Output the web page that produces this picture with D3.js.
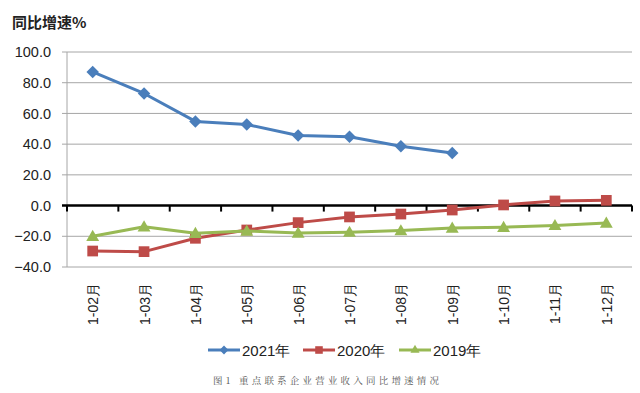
<!DOCTYPE html>
<html><head><meta charset="utf-8">
<script src="https://cdn.jsdelivr.net/npm/d3@7"></script>
<style>body{margin:0;background:#fff;}svg{display:block;}</style>
</head><body>
<svg id="c" width="640" height="393"></svg>
<script>
const categories = ["1-02月","1-03月","1-04月","1-05月","1-06月","1-07月","1-08月","1-09月","1-10月","1-11月","1-12月"];
const s2021 = [87.0, 73.0, 54.8, 52.8, 45.6, 44.8, 38.6, 34.2, null, null, null];
const s2020 = [-29.6, -30.0, -21.3, -15.9, -11.1, -7.4, -5.5, -2.9, 0.4, 3.0, 3.4];
const s2019 = [-20.0, -13.8, -18.0, -16.5, -17.8, -17.3, -16.3, -14.6, -14.1, -12.9, -11.3];
const yTicks = [100, 80, 60, 40, 20, 0, -20, -40];
const seriesNames = ["2021年","2020年","2019年"];
const colors = ["#4A7EBB","#BE4B48","#98B954"];

(function(){
const shapes = [d3.symbolSquare, d3.symbolSquare, d3.symbolTriangle];
const rot = [45, 0, 0];
const sizes = [78, 115, 72];
const svg = d3.select("#c");
const pL = 67, pR = 632, pT = 52, pB = 267;
const x = d3.scaleBand().domain(categories).range([pL, pR]);
const y = d3.scaleLinear().domain([-40, 100]).range([pB, pT]);
const font = "'Liberation Sans', Arial, sans-serif";

svg.append("text").attr("x", 12).attr("y", 28).text("同比增速%")
  .attr("font-family", "'Noto Sans CJK SC', sans-serif").attr("font-weight", "bold")
  .attr("font-size", 15).attr("fill", "#222");

svg.append("g").selectAll("line").data(yTicks.filter(d => d !== 0)).join("line")
  .attr("x1", pL - 5).attr("x2", pR).attr("y1", d => y(d)).attr("y2", d => y(d))
  .attr("stroke", "#a6a6a6").attr("stroke-width", 1);
svg.append("line").attr("x1", pL).attr("x2", pL).attr("y1", pT).attr("y2", pB)
  .attr("stroke", "#a6a6a6").attr("stroke-width", 1);

const yAxis = d3.axisLeft(y).tickValues(yTicks).tickFormat(d3.format(".1f")).tickSize(0).tickPadding(16);
const ya = svg.append("g").attr("transform", `translate(${pL},0)`).call(yAxis);
ya.select(".domain").remove();
ya.selectAll("text").attr("font-family", font).attr("font-size", 14.5).attr("fill", "#222");

const xa = svg.append("g").attr("transform", `translate(0,${y(0)})`);
xa.append("line").attr("x1", pL - 5).attr("x2", pR).attr("stroke", "#000").attr("stroke-width", 2.5);
const bounds = categories.map(c => x(c)).concat([pR]);
xa.selectAll("line.t").data(bounds).join("line").attr("class", "t")
  .attr("x1", d => d).attr("x2", d => d).attr("y1", 0).attr("y2", 6)
  .attr("stroke", "#000").attr("stroke-width", 2);

svg.append("g").selectAll("text").data(categories).join("text")
  .attr("transform", c => `translate(${x(c) + x.bandwidth()/2 + 5.5},283) rotate(-90)`)
  .attr("text-anchor", "end").text(c => c)
  .attr("font-family", font).attr("font-size", 14).attr("fill", "#222");

const all = [s2021, s2020, s2019];
all.forEach((s, i) => {
  const pts = categories.map((c, j) => ({c, v: s[j]})).filter(d => d.v !== null);
  const line = d3.line().x(d => x(d.c) + x.bandwidth()/2).y(d => y(d.v));
  svg.append("path").datum(pts).attr("d", line).attr("fill", "none")
    .attr("stroke", colors[i]).attr("stroke-width", 3).attr("stroke-linejoin", "round");
  svg.append("g").selectAll("path").data(pts).join("path")
    .attr("transform", d => `translate(${x(d.c) + x.bandwidth()/2},${y(d.v) + (i===2?1:0)}) rotate(${rot[i]})`)
    .attr("d", d3.symbol().type(shapes[i]).size(sizes[i])).attr("fill", colors[i]);
});

const legX = [208, 303, 399];
seriesNames.forEach((n, i) => {
  const g = svg.append("g").attr("transform", `translate(${legX[i]},350)`);
  g.append("line").attr("x1", 0).attr("x2", 32).attr("stroke", colors[i]).attr("stroke-width", 3);
  g.append("path").attr("transform", `translate(16,0) rotate(${rot[i]})`)
    .attr("d", d3.symbol().type(shapes[i]).size(sizes[i] * 0.5)).attr("fill", colors[i]);
  g.append("text").attr("x", 34).attr("y", 6).text(n)
    .attr("font-family", font).attr("font-size", 15).attr("fill", "#222");
});

svg.append("text").attr("x", 213).attr("y", 384).text("图1 重点联系企业营业收入同比增速情况")
  .attr("font-family", "'Noto Serif CJK SC','Noto Sans CJK SC', serif").attr("font-size", 9.5)
  .attr("fill", "#555").attr("textLength", 226).attr("lengthAdjust", "spacing");
})();
</script>
</body></html>
